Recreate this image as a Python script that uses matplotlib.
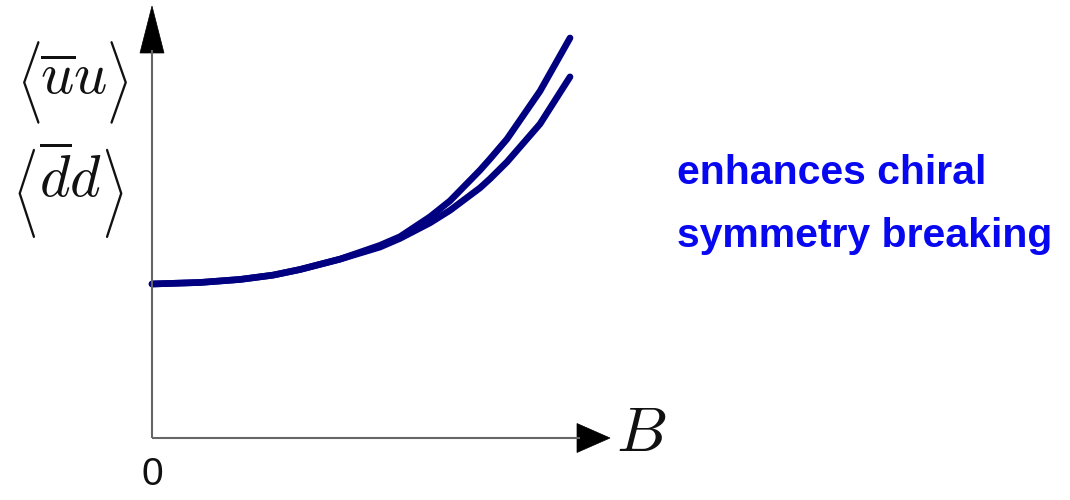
import matplotlib
matplotlib.use("Agg")
import matplotlib.pyplot as plt
from matplotlib.patches import Polygon
from matplotlib.patheffects import AbstractPathEffect
from matplotlib.transforms import Affine2D

# ---- data (arbitrary units) ----
B = [0.0, 0.1048, 0.1921, 0.2642, 0.3231, 0.4105, 0.4978, 0.5415, 0.6070,
     0.6507, 0.7162, 0.7380, 0.7751, 0.8472, 0.9127]
uu = [0.3565, 0.360, 0.367, 0.377, 0.390, 0.414, 0.446, 0.466, 0.512,
      0.549, 0.620, 0.646, 0.692, 0.803, 0.926]
dd = [0.3565, 0.360, 0.367, 0.377, 0.390, 0.414, 0.442, 0.462, 0.498,
      0.527, 0.579, 0.600, 0.639, 0.727, 0.836]

y_label_inner = [r'$\overline{u}u$', r'$\overline{d}d$']
x_label = r'$B$'
origin_label = '0'
note_lines = ['enhances chiral', 'symmetry breaking']

plt.rcParams['mathtext.fontset'] = 'cm'

W, H = 1070, 500
fig = plt.figure(figsize=(W / 100, H / 100), dpi=100)

x0, y0 = 152, 438      # origin (pixels from top-left)
xt, yt = 610, 6        # arrow tips
ax = fig.add_axes([x0 / W, (H - y0) / H, (xt - x0) / W, (y0 - yt) / H])
ax.set_xlim(0, 1)
ax.set_ylim(0, 1)
ax.axis('off')

curve_color = '#000080'
for series in (uu, dd):
    ax.plot(B, series, color=curve_color, lw=4.8, solid_capstyle='round',
            solid_joinstyle='round', clip_on=False)

# axes lines with arrow heads
axis_color = '#666666'
sx = 1.0 / (xt - x0)   # axes fraction per pixel
sy = 1.0 / (y0 - yt)
ax.plot([0, 1 - 30 * sx], [0, 0], color=axis_color, lw=1.5, clip_on=False,
        solid_capstyle='butt')
ax.plot([0, 0], [0, 1 - 44 * sy], color=axis_color, lw=1.5, clip_on=False,
        solid_capstyle='butt')
ax.add_patch(Polygon([(1, 0), (1 - 33 * sx, 14.5 * sy), (1 - 33 * sx, -14.5 * sy)],
                     closed=True, facecolor='black', edgecolor='black', lw=0.5,
                     transform=ax.transAxes, clip_on=False))
ax.add_patch(Polygon([(0, 1), (-12 * sx, 1 - 47 * sy), (12 * sx, 1 - 47 * sy)],
                     closed=True, facecolor='black', edgecolor='black', lw=0.5,
                     transform=ax.transAxes, clip_on=False))


class VStretch(AbstractPathEffect):
    """Stretch a text vertically about its own centre (tall delimiters)."""
    def __init__(self, factor):
        super().__init__()
        self.factor = factor

    def draw_path(self, renderer, gc, tpath, affine, rgbFace=None):
        ext = tpath.get_extents(affine)
        cy = 0.5 * (ext.y0 + ext.y1)
        new_aff = affine + Affine2D().translate(0, -cy).scale(1, self.factor).translate(0, cy)
        renderer.draw_path(gc, tpath, new_aff, rgbFace)


def fx(px):
    return px / W


def fy(py):
    return (H - py) / H


txt_color = '#111111'
# y label 1: < u-bar u >
fig.text(fx(29.5), fy(83), r'$\langle$', fontsize=40, ha='center', va='center',
         color=txt_color, path_effects=[VStretch(1.24)])
fig.text(fx(73.5), fy(77.5), y_label_inner[0], fontsize=42, ha='center', va='center',
         color=txt_color)
fig.text(fx(117.5), fy(83), r'$\rangle$', fontsize=40, ha='center', va='center',
         color=txt_color, path_effects=[VStretch(1.24)])
# y label 2: < d-bar d >
fig.text(fx(25), fy(194), r'$\langle$', fontsize=40, ha='center', va='center',
         color=txt_color, path_effects=[VStretch(1.34)])
fig.text(fx(70), fy(178.5), y_label_inner[1], fontsize=42, ha='center', va='center',
         color=txt_color)
fig.text(fx(113), fy(194), r'$\rangle$', fontsize=40, ha='center', va='center',
         color=txt_color, path_effects=[VStretch(1.34)])

fig.text(fx(641), fy(433), x_label, fontsize=46, ha='center', va='center',
         color=txt_color)
fig.text(fx(152), fy(475), origin_label, fontsize=28, ha='center', va='center',
         family=['Liberation Sans', 'DejaVu Sans'], color=txt_color)

note_font = ['Liberation Sans', 'DejaVu Sans']
fig.text(fx(677), fy(184), note_lines[0], fontsize=29.5, fontweight='bold',
         ha='left', va='baseline', family=note_font, color='#0808f0')
fig.text(fx(677), fy(247), note_lines[1], fontsize=29.5, fontweight='bold',
         ha='left', va='baseline', family=note_font, color='#0808f0')

fig.savefig('out.png', dpi=100)
